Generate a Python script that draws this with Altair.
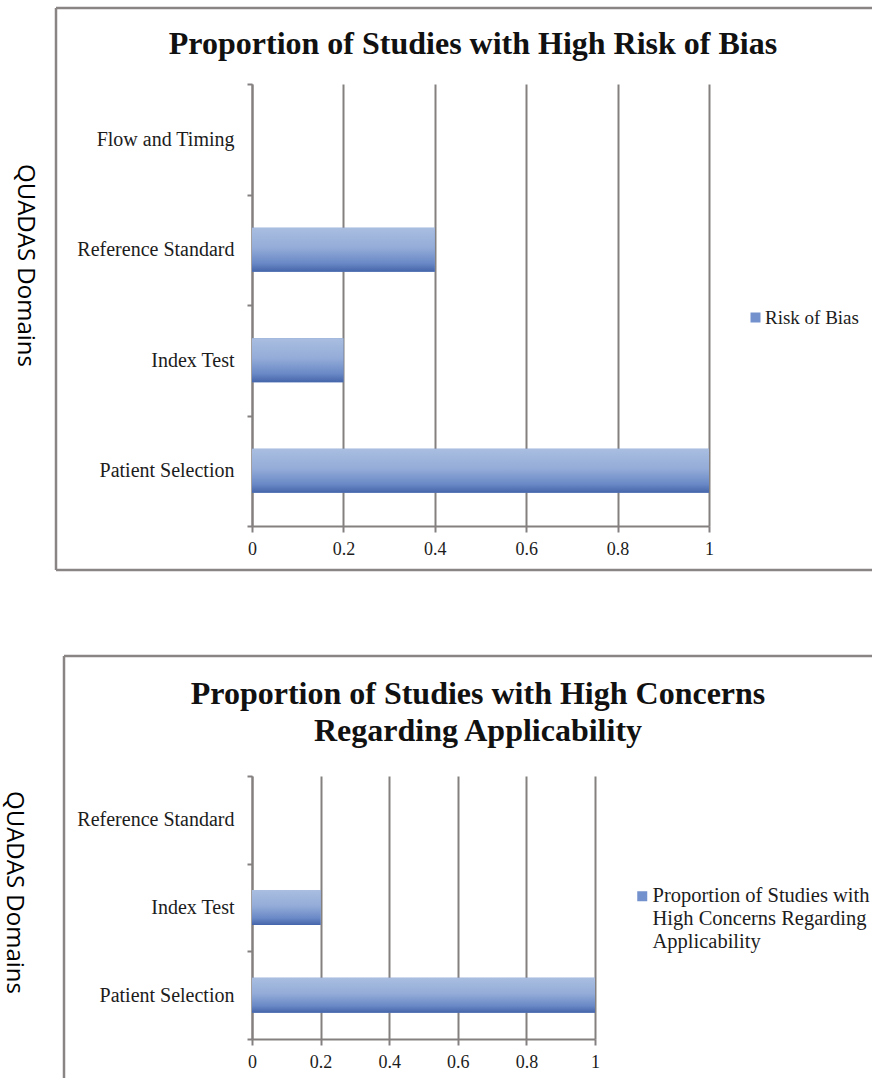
import json
import altair as alt
import pandas as pd

# ---------------- data ----------------
bias_domains = ["Flow and Timing", "Reference Standard", "Index Test", "Patient Selection"]
bias_values = [0.0, 0.4, 0.2, 1.0]
bias_series = "Risk of Bias"
bias_title = "Proportion of Studies with High Risk of Bias"

app_domains = ["Reference Standard", "Index Test", "Patient Selection"]
app_values = [0.0, 0.2, 1.0]
app_series = "Proportion of Studies with High Concerns Regarding Applicability"
app_series_lines = ["Proportion of Studies with", "High Concerns Regarding", "Applicability"]
app_title_lines = ["Proportion of Studies with High Concerns", "Regarding Applicability"]

x_ticks = [0, 0.2, 0.4, 0.6, 0.8, 1]
y_axis_title = "QUADAS Domains"

# ---------------- styles ----------------
SERIF = "Liberation Serif"
SANS = "Open Sans"
GRID = "#858080"
FRAME = "#8a8585"
TEXT = "#1c1c1c"
LEGEND_BLUE = "#7391cc"

bar_fill = alt.LinearGradient(
    gradient="linear", x1=0, y1=0, x2=0, y2=1,
    stops=[
        alt.GradientStop(offset=0, color="#a9bee0"),
        alt.GradientStop(offset=0.45, color="#94acd8"),
        alt.GradientStop(offset=0.8, color="#6a89c6"),
        alt.GradientStop(offset=1, color="#4565aa"),
    ],
)

one = alt.Data(values=[{}])


def panel(domains, values, series, width, height, title_text, title_x, title_y,
          ytitle_x, ytitle_y, legend_x, legend_y, legend_font, legend_expr,
          label_baseline, symbol, box):
    df = pd.DataFrame({"domain": domains, "value": values, "series": series})

    x_enc = alt.X(
        "value:Q",
        scale=alt.Scale(domain=[0, 1], nice=False, zero=True),
        axis=alt.Axis(
            title=None, values=x_ticks, format="~g", labelFlush=False,
            labelFont=SERIF, labelFontSize=18, labelColor=TEXT, labelPadding=8,
            tickSize=6, tickColor=GRID, tickWidth=2,
            domainColor=GRID, domainWidth=2,
            grid=True, gridColor=GRID, gridWidth=2,
        ),
    )
    y_enc = alt.Y(
        "domain:N", sort=domains,
        scale=alt.Scale(paddingInner=0, paddingOuter=0),
        axis=alt.Axis(
            title=y_axis_title, titleFont=SANS, titleFontSize=24, titleFontWeight="normal",
            titleColor="#000000", titleAngle=90, titleX=ytitle_x, titleY=ytitle_y,
            titleAlign="center", titleBaseline="middle",
            labelFont=SERIF, labelFontSize=20, labelColor=TEXT, labelPadding=13, labelLimit=400,
            tickSize=5, tickColor=GRID, tickWidth=2, tickBand="extent",
            domainColor=GRID, domainWidth=2, grid=False,
        ),
    )

    legend_kwargs = dict(
        title=None, orient="none", legendX=legend_x, legendY=legend_y,
        symbolType=symbol, symbolSize=100, symbolStrokeWidth=0,
        labelFont=SERIF, labelFontSize=legend_font, labelColor=TEXT, labelOffset=0,
        labelLimit=500, padding=0, labelBaseline=label_baseline,
    )
    if legend_expr:
        legend_kwargs["labelExpr"] = legend_expr

    base = alt.Chart(df).encode(x=x_enc, y=y_enc)
    legend_bars = base.mark_bar(height=alt.RelativeBandSize(band=0.4)).encode(
        color=alt.Color("series:N", scale=alt.Scale(range=[LEGEND_BLUE]),
                        legend=alt.Legend(**legend_kwargs))
    )
    grad_bars = base.mark_bar(height=alt.RelativeBandSize(band=0.4), fill=bar_fill)

    L, T, R, B = box
    layers = [
        alt.Chart(one).mark_rule(color=FRAME, strokeWidth=2.5).encode(
            x=alt.value(L), x2=alt.value(R), y=alt.value(T)),
        alt.Chart(one).mark_rule(color=FRAME, strokeWidth=2.5).encode(
            x=alt.value(L), y=alt.value(T), y2=alt.value(B[0])),
    ]
    if B[1]:
        layers.append(alt.Chart(one).mark_rule(color=FRAME, strokeWidth=2.5).encode(
            x=alt.value(L), x2=alt.value(R), y=alt.value(B[0])))

    title = alt.Chart(one).mark_text(
        font=SERIF, fontSize=32, fontWeight="bold", color="#111111",
        align="center", baseline="middle", lineHeight=37,
    ).encode(x=alt.value(title_x), y=alt.value(title_y), text=alt.value(title_text))

    layers += [legend_bars, grad_bars, title]
    return alt.layer(*layers).properties(width=width, height=height)


top = panel(
    bias_domains, bias_values, bias_series, 457, 442,
    bias_title, 221, -40,
    -228, 181,
    494, 224, 19, None, "middle", "square",
    (-196, -76, 620, (486, True)),
)

bottom = panel(
    app_domains, app_values, app_series, 343, 263,
    app_title_lines, 226, -82,
    -239, 116,
    380, 100, 20.5, json.dumps(app_series_lines), "top",
    "M-1,1L1,1L1,3L-1,3Z",
    (-188, -120, 620, (302, False)),
)

chart = alt.concat(top, bottom, columns=1, spacing=82, align="none").resolve_scale(
    color="independent"
).resolve_legend(color="independent").properties(
    padding={"left": 1, "top": 6, "right": 0, "bottom": 0}
).configure(
    style={"guide-label": {"lineHeight": 23}}
).configure_view(strokeWidth=0)

chart.save("out.html", embed_options={"renderer": "svg", "actions": False})
